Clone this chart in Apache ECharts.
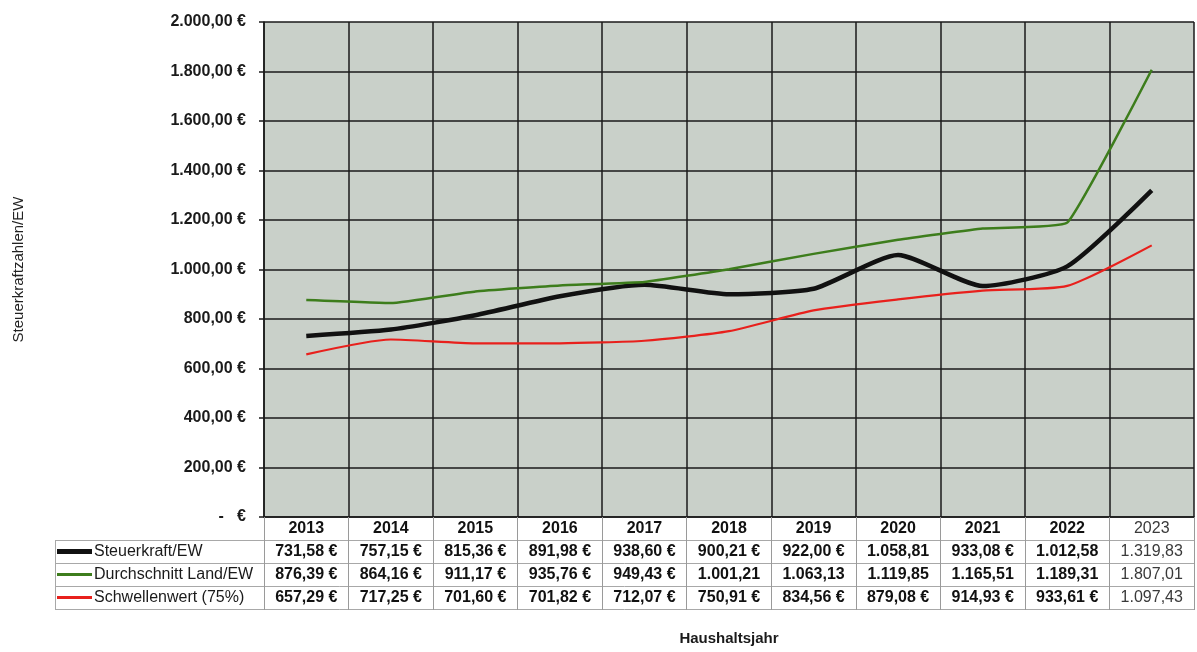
<!DOCTYPE html>
<html><head><meta charset="utf-8">
<script src="https://cdn.jsdelivr.net/npm/echarts@6/dist/echarts.min.js"></script>
<style>html,body{margin:0;padding:0;background:#fff}#c{width:1197px;height:652px}</style>
</head><body><div id="c"></div>
<script>
const categories = ['2013','2014','2015','2016','2017','2018','2019','2020','2021','2022','2023'];
const steuerkraft = [731.58,757.15,815.36,891.98,938.60,900.21,922.00,1058.81,933.08,1012.58,1319.83];
const landSchnitt = [876.39,864.16,911.17,935.76,949.43,1001.21,1063.13,1119.85,1165.51,1189.31,1807.01];
const schwelle = [657.29,717.25,701.60,701.82,712.07,750.91,834.56,879.08,914.93,933.61,1097.43];
const seriesNames = ['Steuerkraft/EW','Durchschnitt Land/EW','Schwellenwert (75%)'];
const seriesColors = ['#111111','#3d7d1c','#e8201c'];

function fmt(v){
  const neg = v<0; v=Math.abs(v);
  const s = v.toFixed(2).split('.');
  const ip = s[0].replace(/\B(?=(\d{3})+(?!\d))/g,'.');
  return (neg?'-':'')+ip+','+s[1];
}
function cell(v){ return fmt(v) + (v<1000 ? ' €' : ''); }

const FONT = '"Liberation Sans", Arial, sans-serif';
const chart = echarts.init(document.getElementById('c'));
const GL=264, GR=3, GT=22, GB=135;
const rowH = 23;

chart.setOption({
  animation:false,
  grid:{left:GL,right:GR,top:GT,bottom:GB,show:true,containLabel:false,outerBoundsMode:'none',
        backgroundColor:'#c9d0c9',borderColor:'#1a1a1a',borderWidth:0},
  xAxis:{
    type:'category', data:categories, boundaryGap:true,
    name:'Haushaltsjahr', nameLocation:'middle', nameGap:114,
    nameTextStyle:{fontFamily:FONT,fontSize:15,fontWeight:'bold',color:'#1a1a1a'},
    axisLine:{show:true,lineStyle:{color:'#1a1a1a',width:1.5}},
    axisTick:{show:true,length:93,lineStyle:{color:'#9a9a9a',width:1}},
    splitLine:{show:true,lineStyle:{color:'#1a1a1a',width:1.5}},
    axisLabel:{
      margin:0, interval:0,
      formatter:function(val){
        const i = categories.indexOf(val);
        const last = i===categories.length-1;
        const y = last?'yl':'y', v = last?'vl':'v';
        return '{'+y+'|'+val+'}\n{'+v+'|'+cell(steuerkraft[i])+'}\n{'+v+'|'+cell(landSchnitt[i])+'}\n{'+v+'|'+cell(schwelle[i])+'}';
      },
      rich:{
        y:{fontFamily:FONT,fontWeight:'bold',fontSize:16,color:'#111',lineHeight:rowH},
        v:{fontFamily:FONT,fontWeight:'bold',fontSize:16,color:'#111',lineHeight:rowH},
        yl:{fontFamily:FONT,fontWeight:'normal',fontSize:16,color:'#3a3a3a',lineHeight:rowH},
        vl:{fontFamily:FONT,fontWeight:'normal',fontSize:16,color:'#3a3a3a',lineHeight:rowH}
      }
    }
  },
  yAxis:{
    type:'value', min:0, max:2000, interval:200,
    name:'Steuerkraftzahlen/EW', nameLocation:'middle', nameGap:238, nameRotate:90,
    nameTextStyle:{fontFamily:FONT,fontSize:15,color:'#222'},
    axisLine:{show:true,lineStyle:{color:'#1a1a1a',width:1.5}},
    axisTick:{show:true,length:5,lineStyle:{color:'#1a1a1a',width:1.5}},
    splitLine:{show:true,lineStyle:{color:'#1a1a1a',width:1.5}},
    axisLabel:{margin:18,fontFamily:FONT,fontSize:16,fontWeight:'bold',color:'#1a1a1a',
      formatter:function(v){ return v===0 ? '-   €' : fmt(v)+' €'; }}
  },
  series:[
    {name:seriesNames[0],type:'line',data:steuerkraft,smooth:0.2,symbol:'none',lineStyle:{color:seriesColors[0],width:4.5}},
    {name:seriesNames[1],type:'line',data:landSchnitt,smooth:0.1,symbol:'none',lineStyle:{color:seriesColors[1],width:2.5}},
    {name:seriesNames[2],type:'line',data:schwelle,smooth:0.2,symbol:'none',lineStyle:{color:seriesColors[2],width:2.2}}
  ]
});

function addTable(){
  const bottomY = chart.convertToPixel({yAxisIndex:0},0);
  const rightX = 1197-GR;
  const tableLeft = 55;
  const els = [];
  for(let r=1;r<=4;r++){
    const y = Math.round(bottomY + r*rowH) + 0.5;
    els.push({type:'line',shape:{x1:tableLeft,y1:y,x2:rightX,y2:y},style:{stroke:'#a8a8a8',lineWidth:1},silent:true});
  }
  els.push({type:'line',shape:{x1:tableLeft+0.5,y1:bottomY+rowH,x2:tableLeft+0.5,y2:bottomY+4*rowH},style:{stroke:'#a8a8a8',lineWidth:1},silent:true});
  for(let s=0;s<3;s++){
    const cy = bottomY + (s+1.5)*rowH;
    els.push({type:'line',shape:{x1:tableLeft+2,y1:cy,x2:tableLeft+37,y2:cy},
      style:{stroke:seriesColors[s],lineWidth:s===0?5:3},silent:true});
    els.push({type:'text',x:tableLeft+39,y:cy,style:{text:seriesNames[s],font:'16px '+FONT,fill:'#1a1a1a',textVerticalAlign:'middle'},silent:true});
  }
  chart.setOption({graphic:els});
}
addTable();
</script>
</body></html>
